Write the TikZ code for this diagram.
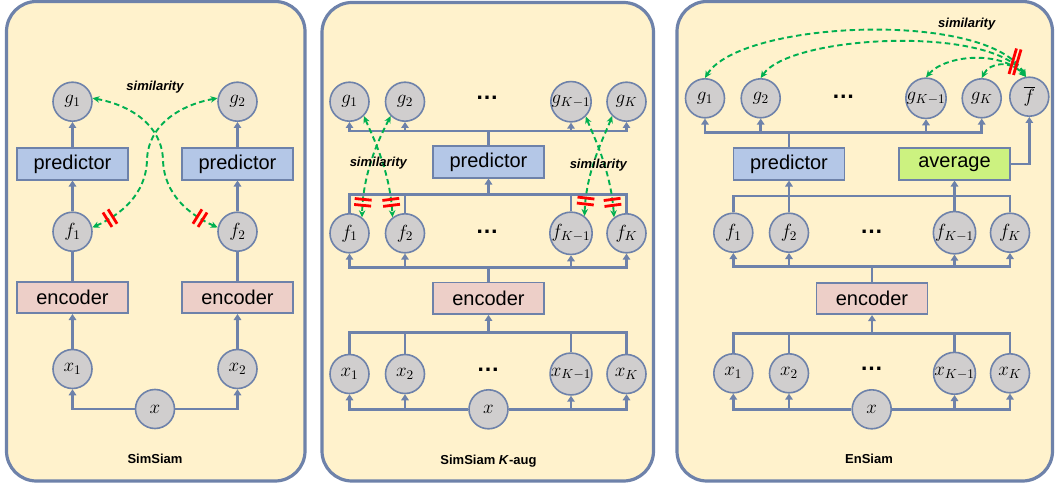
\documentclass[tikz,border=0pt]{standalone}
\usepackage{graphicx}
\usepackage{fontspec}
\setsansfont{Liberation Sans}
\usetikzlibrary{arrows.meta,decorations.markings}
\newcommand{\mvar}[1]{\scalebox{1.32}{$#1$}}
\definecolor{edge}{RGB}{110,130,170}
\definecolor{panelfill}{RGB}{255,242,204}
\definecolor{nodegray}{RGB}{208,206,206}
\definecolor{predfill}{RGB}{180,199,231}
\definecolor{encfill}{RGB}{237,207,200}
\definecolor{avgfill}{RGB}{204,242,128}
\definecolor{simgreen}{RGB}{0,176,80}
\tikzset{
  panel/.style={draw=edge, line width=3.2pt, fill=panelfill, rounded corners=30pt},
  var/.style={circle, draw=edge, line width=1.6pt, fill=nodegray, minimum size=39pt, inner sep=0pt, font=\fontsize{14}{14}\selectfont},
  blockbox/.style={draw=edge, line width=1.6pt, minimum width=111pt, minimum height=31.5pt, inner sep=0pt, font=\sffamily\fontsize{20}{20}\selectfont},
  predbox/.style={blockbox, fill=predfill},
  encbox/.style={blockbox, fill=encfill},
  avgbox/.style={blockbox, fill=avgfill},
  dotsn/.style={inner sep=0pt, font=\sffamily\bfseries\fontsize{23}{23}\selectfont},
  simlabel/.style={inner sep=0pt, font=\sffamily\bfseries\itshape\fontsize{13}{13}\selectfont},
  title/.style={inner sep=0pt, font=\sffamily\bfseries\fontsize{13}{13}\selectfont},
  link/.style={draw=edge, line width=2.8pt},
  conn/.style={link, -{Triangle[length=6pt,width=7.5pt]}},
  sim/.style={draw=simgreen, line width=1.9pt, dash pattern=on 5.5pt off 3.5pt, {Stealth[length=7pt,width=6.5pt]}-{Stealth[length=7pt,width=6.5pt]}},
  stopline/.style={draw=red, line width=2.8pt, solid, -},
  stopat/.style={postaction={decorate}, decoration={markings, mark=at position #1 with {\draw[stopline] (-3pt,-8.5pt) -- (-3pt,8.5pt) (3pt,-8.5pt) -- (3pt,8.5pt);}}}
}
\begin{document}
\begin{tikzpicture}[x=1pt,y=-1pt]
\useasboundingbox (0,0) rectangle (1055,484);
\fill[white] (0,0) rectangle (1055,484);
\draw[panel] (6.5,1.5) rectangle (305,481);
\draw[panel] (322,2.5) rectangle (653.5,481);
\draw[panel] (677,1.5) rectangle (1052.5,481);

% ---------------- Panel 1: SimSiam ----------------
\node[var] (ag1) at (72.5,101.7) {\mvar{g_1}};
\node[var] (ag2) at (237.5,101.7) {\mvar{g_2}};
\node[predbox] (apred1) at (72.5,164) {predictor};
\node[predbox] (apred2) at (237.5,164) {predictor};
\node[var] (af1) at (72.5,231.7) {\mvar{f_1}};
\node[var] (af2) at (237.5,231.7) {\mvar{f_2}};
\node[encbox] (aenc1) at (72.5,297.5) {encoder};
\node[encbox] (aenc2) at (237.5,297.5) {encoder};
\node[var] (ax1) at (72.5,369) {\mvar{x_1}};
\node[var] (ax2) at (237.5,369) {\mvar{x_2}};
\node[var] (ax) at (155,409) {\mvar{x}};
\node[title] (atitle) at (155,459) {SimSiam};
\node[simlabel] (asim) at (155,86.7) {similarity};

\draw[conn] (ax.west) -| (ax1.south);
\draw[conn] (ax.east) -| (ax2.south);
\draw[conn] (ax1.north) -- (aenc1.south);
\draw[conn] (ax2.north) -- (aenc2.south);
\draw[link] (aenc1.north) -- (af1.south);
\draw[link] (aenc2.north) -- (af2.south);
\draw[conn] (af1.north) -- (apred1.south);
\draw[conn] (af2.north) -- (apred2.south);
\draw[conn] (apred1.north) -- (ag1.south);
\draw[conn] (apred2.north) -- (ag2.south);

\draw[sim, stopat=-20pt] (ag1.10) .. controls (130,105) and (162,125) .. (163,160) .. controls (164,195) and (190,215) .. (af2.168);
\draw[sim, stopat=-20pt] (ag2.170) .. controls (180,105) and (148,125) .. (147,160) .. controls (146,195) and (120,215) .. (af1.12);

% ---------------- Panel 2: SimSiam K-aug ----------------
\node[var] (bg1) at (349.5,101.7) {\mvar{g_1}};
\node[var] (bg2) at (405,101.7) {\mvar{g_2}};
\node[dotsn] (bgd) at (487,98) {…};
\node[var] (bgKm) at (571,101.7) {\mvar{g_{K-1}}};
\node[var] (bgK) at (626.5,101.7) {\mvar{g_K}};
\node[predbox] (bpred) at (488.5,162) {predictor};
\node[var] (bf1) at (349.5,233.3) {\mvar{f_1}};
\node[var] (bf2) at (405,233.3) {\mvar{f_2}};
\node[dotsn] (bfd) at (487,231.7) {…};
\node[var] (bfKm) at (571,233.3) {\mvar{f_{K-1}}};
\node[var] (bfK) at (626.5,233.3) {\mvar{f_K}};
\node[encbox] (benc) at (488.5,298.3) {encoder};
\node[var] (bx1) at (349.5,374) {\mvar{x_1}};
\node[var] (bx2) at (405,374) {\mvar{x_2}};
\node[dotsn] (bxd) at (488,370) {…};
\node[var] (bxKm) at (571,374) {\mvar{x_{K-1}}};
\node[var] (bxK) at (626.5,374) {\mvar{x_K}};
\node[var] (bx) at (488.5,409.3) {\mvar{x}};
\node[title] (btitle) at (488.5,460.7) {SimSiam \textit{K}-aug};

\coordinate (b2g) at (488.5,131);
\coordinate (b2f) at (488.5,194.3);
\coordinate (b2e) at (488.5,267.3);
\coordinate (b2x) at (488.5,332.7);
\draw[link] (bpred.north) -- (b2g);
\foreach \n in {bg1,bg2,bgKm,bgK} \draw[conn] (b2g) -| (\n.south);
\foreach \n in {bf1,bf2,bfKm,bfK} \draw[link] (\n.north) |- (b2f);
\draw[conn] (b2f) -- (bpred.south);
\draw[link] (benc.north) -- (b2e);
\foreach \n in {bf1,bf2,bfKm,bfK} \draw[conn] (b2e) -| (\n.south);
\foreach \n in {bx1,bx2,bxKm,bxK} \draw[link] (\n.north) |- (b2x);
\draw[conn] (b2x) -- (benc.south);
\draw[conn] (bx.west) -| (bx1.south);
\draw[conn] (bx.west) -| (bx2.south);
\draw[conn] (bx.east) -| (bxKm.south);
\draw[conn] (bx.east) -| (bxK.south);

\draw[sim, stopat=-15pt] (bg1.-45) .. controls (372,135) and (390,170) .. (bf2.128);
\draw[sim, stopat=-15pt] (bg2.-135) .. controls (381,135) and (363,170) .. (bf1.52);
\draw[sim, stopat=-15pt] (bgKm.-45) .. controls (593,135) and (611,170) .. (bfK.128);
\draw[sim, stopat=-15pt] (bgK.-135) .. controls (605,135) and (586,170) .. (bfKm.52);
\node[simlabel] (bsimL) at (378.3,162.7) {similarity};
\node[simlabel] (bsimR) at (598.3,165) {similarity};

% ---------------- Panel 3: EnSiam ----------------
\node[var] (cg1) at (705,98.3) {\mvar{g_1}};
\node[var] (cg2) at (760.7,98.3) {\mvar{g_2}};
\node[dotsn] (cgd) at (843.3,96.7) {…};
\node[var] (cgKm) at (926,98.3) {\mvar{g_{K-1}}};
\node[var] (cgK) at (981.7,98.3) {\mvar{g_K}};
\node[var] (cfbar) at (1029.3,96.7) {\mvar{\overline{f}}};
\node[predbox] (cpred) at (789,164) {predictor};
\node[avgbox] (cavg) at (954.5,164) {average};
\node[var] (cf1) at (733.3,232.7) {\mvar{f_1}};
\node[var] (cf2) at (789,232.7) {\mvar{f_2}};
\node[dotsn] (cfd) at (871.7,231.7) {…};
\node[var] (cfKm) at (954.5,232.7) {\mvar{f_{K-1}}};
\node[var] (cfK) at (1010,232.7) {\mvar{f_K}};
\node[encbox] (cenc) at (872,298.5) {encoder};
\node[var] (cx1) at (733.3,373.3) {\mvar{x_1}};
\node[var] (cx2) at (789,373.3) {\mvar{x_2}};
\node[dotsn] (cxd) at (871.7,368.3) {…};
\node[var] (cxKm) at (954.5,373.3) {\mvar{x_{K-1}}};
\node[var] (cxK) at (1010,373.3) {\mvar{x_K}};
\node[var] (cx) at (871.7,409.3) {\mvar{x}};
\node[title] (ctitle) at (869,459.3) {EnSiam};
\node[simlabel] (csim) at (966.7,24) {similarity};

\coordinate (c3g) at (789,132.7);
\coordinate (c3f) at (1010,196);
\coordinate (c3e) at (872,266.7);
\coordinate (c3x) at (872,333.3);
\draw[link] (cpred.north) -- (c3g);
\foreach \n in {cg1,cg2,cgKm,cgK} \draw[conn] (c3g) -| (\n.south);
\draw[conn] (cavg.east) -| (cfbar.south);
\draw[link] (cf1.north) |- (c3f) -- (cfK.north);
\draw[conn] (cf2.north) -- (cpred.south);
\draw[conn] (cfKm.north) -- (cavg.south);
\draw[link] (cenc.north) -- (c3e);
\foreach \n in {cf1,cf2,cfKm,cfK} \draw[conn] (c3e) -| (\n.south);
\foreach \n in {cx1,cx2,cxKm,cxK} \draw[link] (\n.north) |- (c3x);
\draw[conn] (c3x) -- (cenc.south);
\draw[conn] (cx.west) -| (cx1.south);
\draw[conn] (cx.west) -| (cx2.south);
\draw[conn] (cx.east) -| (cxKm.south);
\draw[conn] (cx.east) -| (cxK.south);

\draw[sim] (cg1.north) .. controls (740,20) and (990,10) .. (cfbar.100);
\draw[sim] (cg2.north) .. controls (790,35) and (990,25) .. (cfbar.100);
\draw[sim] (cgKm.north) .. controls (945,55) and (1000,50) .. (cfbar.100);
\draw[sim] (cgK.north) .. controls (990,62) and (1010,60) .. (cfbar.100);
\draw[stopline] (1009,74) -- (1016.5,48.5) (1013.5,75) -- (1021,49.5);
\end{tikzpicture}
\end{document}
